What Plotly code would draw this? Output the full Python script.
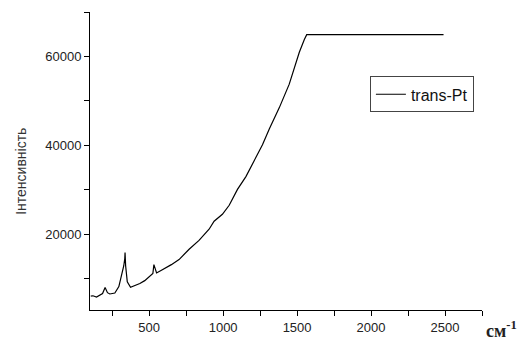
import plotly.graph_objects as go

wavenumber = [105, 120, 144, 166, 185, 202, 218, 234, 268, 295, 313, 328, 335, 337, 341, 352, 374, 400, 437, 470, 505, 525, 532,
              550, 580, 617, 650, 702, 770, 837, 905, 939, 995, 1041, 1097, 1154, 1210, 1244, 1266, 1312, 1380, 1447, 1481,
              1515, 1549, 1565, 2490]
intensity = [6100, 6200, 5900, 6320, 6700, 8040, 6900, 6600, 6830, 8270, 10630, 12900, 14500, 15900, 12900, 9330, 8100, 8400, 8970, 9600, 10630, 11200, 13200,
             11330, 11900, 12560, 13200, 14340, 16650, 18650, 21160, 22950, 24520, 26540, 30110, 32990, 36560, 38700, 40150, 43700, 48500, 53780, 57370,
             60950, 63820, 64900, 64900]

fig = go.Figure()
fig.add_trace(go.Scatter(x=wavenumber, y=intensity, mode="lines", name="trans-Pt",
                         line=dict(color="black", width=1.2)))

axis_common = dict(showline=True, linecolor="black", linewidth=1, ticks="outside",
                   ticklen=5, tickcolor="black", showgrid=False, zeroline=False,
                   tickformat="d",
                   tickfont=dict(family="Liberation Sans, Arial", size=13, color="#222"))

fig.update_layout(
    width=521, height=347,
    margin=dict(l=90, r=39, t=12, b=24),
    paper_bgcolor="white", plot_bgcolor="white",
    xaxis=dict(range=[100, 2750], dtick=500, tick0=0,
               minor=dict(dtick=250, ticks="outside", ticklen=5, tickcolor="black"),
               **axis_common),
    yaxis=dict(range=[3000, 70000], dtick=20000, tick0=0,
               minor=dict(dtick=10000, ticks="outside", ticklen=5, tickcolor="black"),
               **axis_common),
    showlegend=True,
    legend=dict(x=0.714, y=0.784, xanchor="left", yanchor="top",
                bordercolor="#444", borderwidth=1, bgcolor="white",
                font=dict(family="Liberation Sans, Arial", size=16, color="#111"),
                tracegroupgap=0, itemwidth=30),
    annotations=[
        dict(text="Інтенсивність", xref="paper", yref="paper", x=-0.175, y=0.465,
             textangle=-90, showarrow=False, xanchor="center", yanchor="middle",
             font=dict(family="Liberation Sans, Arial", size=14, color="#333")),
        dict(text="<b>см</b><sup><b>-1</b></sup>", xref="paper", yref="paper", x=1.005, y=-0.065,
             showarrow=False, xanchor="left", yanchor="middle",
             font=dict(family="Liberation Serif, Times New Roman", size=18, color="#222")),
    ],
)

fig.write_html("out.html")
